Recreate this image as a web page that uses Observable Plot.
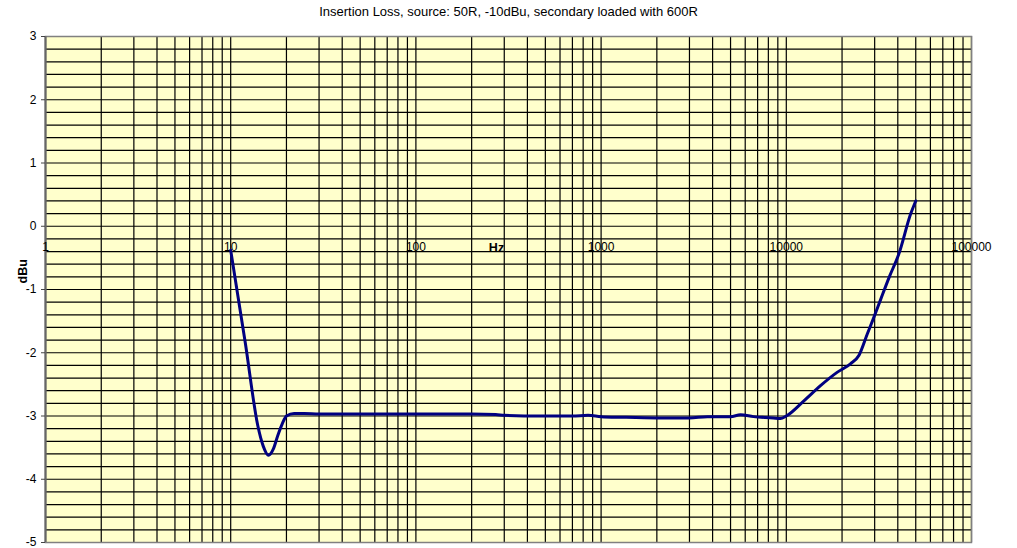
<!DOCTYPE html>
<html>
<head>
<meta charset="utf-8">
<script src="https://cdn.jsdelivr.net/npm/d3@7"></script>
<script src="https://cdn.jsdelivr.net/npm/@observablehq/plot@0.6"></script>
<style>
  html, body { margin: 0; padding: 0; background: #fff; }
  #chart svg { display: block; }
</style>
</head>
<body>
<div id="chart"></div>
<script>
const title = "Insertion Loss, source: 50R, -10dBu, secondary loaded with 600R";
const xLabel = "Hz";
const yLabel = "dBu";

// Frequency (Hz) and level (dBu)
const freq = [10, 12, 14, 15, 16, 17, 18, 19, 20, 22, 25, 30, 50, 100, 200, 270, 300, 470, 700, 850, 1000, 1300, 2000, 3000, 3750, 5000, 5660, 6650, 8500, 9300, 10000, 12450, 15300, 18800, 22200, 24700, 27400, 29700, 32300, 36000, 40500, 47000, 50000];
const level = [-0.38, -1.85, -3.15, -3.48, -3.62, -3.52, -3.30, -3.12, -3.00, -2.96, -2.96, -2.97, -2.97, -2.97, -2.97, -2.975, -2.99, -3.00, -3.00, -2.99, -3.01, -3.02, -3.03, -3.03, -3.01, -3.01, -2.98, -3.01, -3.03, -3.04, -3.00, -2.76, -2.52, -2.31, -2.175, -2.04, -1.70, -1.44, -1.16, -0.80, -0.44, 0.20, 0.40];

const xTickLabels = [1, 10, 100, 1000, 10000, 100000];
const yTicks = [-5, -4, -3, -2, -1, 0, 1, 2, 3];
const decades = [1, 10, 100, 1000, 10000];
const multipliers = [1, 2, 3, 4, 5, 6, 7, 8, 9];
const yGridStep = 0.2;

const xGrid = decades.flatMap(d => multipliers.map(m => d * m)).concat([100000]);
const yGrid = d3.range(0, 41).map(i => +(-5 + i * yGridStep).toFixed(2));
const data = freq.map((f, i) => ({f, v: level[i]}));

const font = "'Liberation Sans', Arial, sans-serif";

const chart = Plot.plot({
  width: 1017,
  height: 548,
  marginLeft: 45,
  marginRight: 46,
  marginTop: 36,
  marginBottom: 6,
  style: {fontFamily: font, fontSize: "12px", color: "#000", background: "#fff"},
  x: {type: "log", domain: [1, 100000], axis: null},
  y: {domain: [-5, 3], axis: null},
  marks: [
    Plot.frame({fill: "#FFFFCC", stroke: null}),
    Plot.ruleY(yGrid, {stroke: "#000", strokeWidth: 1.2}),
    Plot.ruleX(xGrid, {stroke: "#000", strokeWidth: 1.2}),
    Plot.frame({stroke: "#808080", strokeWidth: 1.5}),
    Plot.ruleX([1], {stroke: "#666", strokeWidth: 2}),
    Plot.axisY({ticks: yTicks, label: null, tickSize: 4, tickPadding: 5, tickFormat: d => String(d), stroke: "#444", fill: "#000", fontSize: 12}),
    Plot.text(xTickLabels, {x: d => d, y: () => 0, dy: 21, text: d => String(d), fill: "#000", fontSize: 12, letterSpacing: "0.3px"}),
    Plot.line(data, {x: "f", y: "v", stroke: "#000080", strokeWidth: 3, curve: "monotone-x", strokeLinejoin: "round", strokeLinecap: "round"}),
    Plot.text([xLabel], {frameAnchor: "middle", dx: -12, dy: -42, fontWeight: "bold", fontSize: 12.5, fill: "#000"}),
    Plot.text([yLabel], {frameAnchor: "left", dx: -23, dy: -6, rotate: -90, fontWeight: "bold", fontSize: 12.5, fill: "#000"}),
    Plot.text([title], {frameAnchor: "top", dy: -30, fontSize: 13, fill: "#000"})
  ]
});
document.getElementById("chart").appendChild(chart);
</script>
</body>
</html>
